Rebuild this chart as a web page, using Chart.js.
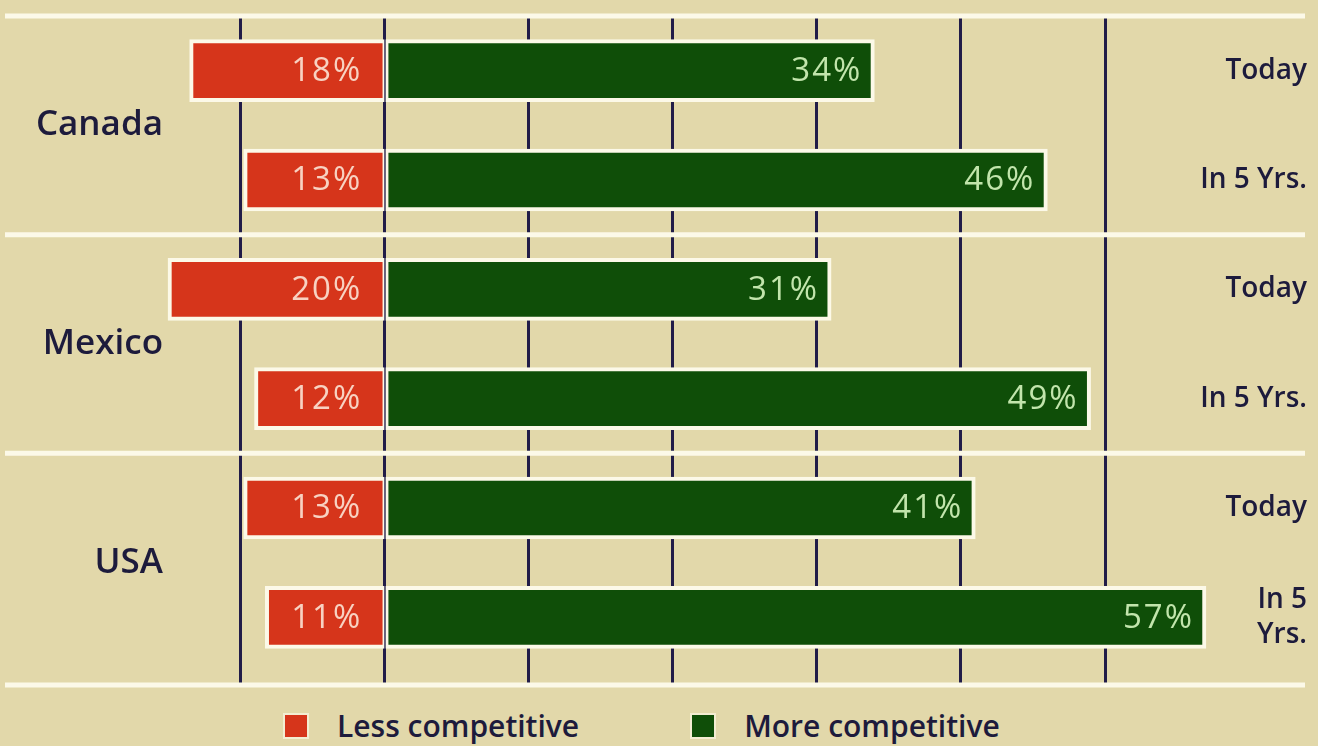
<!DOCTYPE html>
<html lang="en">
<head>
    <meta charset="UTF-8">
    <title>Competitiveness outlook</title>
    <script src="https://cdn.jsdelivr.net/npm/chart.js"></script>
    <style>
        body {
            margin: 0;
            background: #e2d8aa;
            font-family: 'Open Sans', sans-serif;
        }

        #wrap {
            position: relative;
            width: 1318px;
            height: 746px;
        }

        #chartBox {
            position: absolute;
            left: 0;
            top: 0;
            width: 1318px;
            height: 690px;
        }

        /* legend sits under the canvas */
        #legend {
            position: absolute;
            left: 285px;
            top: 705px;
            display: flex;
            align-items: center;
        }

        .legend-item {
            display: flex;
            align-items: center;
            margin-right: 113px;
            color: #1d1b3c;
            font-size: 30px;
            font-weight: 600;
        }

        .legend-box {
            width: 22px;
            height: 22px;
            margin-right: 30px;
            box-shadow: 0 0 0 2px #f3edd2;
        }
    </style>
</head>

<body>
    <div id="wrap">
        <div id="chartBox"><canvas id="competitiveChart"></canvas></div>
        <div id="legend"></div>
    </div>

    <script>
        // rows: two periods per country
        var countries = ['Canada', 'Mexico', 'USA'];
        var periods = ['Today', 'In 5 Yrs.', 'Today', 'In 5 Yrs.', 'Today', ['In 5', 'Yrs.']];
        var lessCompetitive = [18, 13, 20, 12, 13, 11];
        var moreCompetitive = [34, 46, 31, 49, 41, 57];
        var gridSteps = [-10, 0, 10, 20, 30, 40, 50];

        var navy = '#1d1b3c';
        var lineWhite = '#fcf9e8';
        var xMin = -15, xMax = 55.2;

        Chart.defaults.font.family = "'Open Sans', sans-serif";

        // white rules at the top, between countries and at the bottom
        var separators = {
            id: 'separators',
            beforeDatasetsDraw(chart) {
                var ctx = chart.ctx;
                var y = chart.scales.y;
                var perCountry = periods.length / countries.length;
                var rows = [chart.chartArea.top];
                for (var i = 1; i < countries.length; i++) {
                    rows.push(y.getPixelForValue(i * perCountry - 0.5));
                }
                rows.push(chart.scales.x.bottom);
                ctx.save();
                ctx.strokeStyle = lineWhite;
                ctx.lineWidth = 5;
                rows.forEach(function (yy) {
                    ctx.beginPath();
                    ctx.moveTo(5, yy);
                    ctx.lineTo(1305, yy);
                    ctx.stroke();
                });
                ctx.restore();
            }
        };

        // percentage written inside each bar
        var barValues = {
            id: 'barValues',
            afterDatasetsDraw(chart) {
                var ctx = chart.ctx;
                ctx.save();
                ctx.font = '33px "Open Sans"';
                ctx.letterSpacing = '2px';
                ctx.textAlign = 'right';
                ctx.textBaseline = 'middle';
                chart.data.datasets.forEach(function (ds, i) {
                    chart.getDatasetMeta(i).data.forEach(function (bar, j) {
                        var x = ds.xAxisID === 'xRed' ? bar.base - 22 : bar.x - 12;
                        ctx.fillStyle = ds.valueColor;
                        ctx.fillText(ds.data[j] + '%', x, bar.y + 1);
                    });
                });
                ctx.restore();
            }
        };

        var htmlLegend = {
            id: 'htmlLegend',
            afterUpdate(chart) {
                var box = document.getElementById('legend');
                box.innerHTML = '';
                chart.data.datasets.forEach(function (ds) {
                    var item = document.createElement('div');
                    item.className = 'legend-item';
                    var sw = document.createElement('span');
                    sw.className = 'legend-box';
                    sw.style.background = ds.backgroundColor;
                    var txt = document.createElement('span');
                    txt.textContent = ds.label;
                    item.append(sw, txt);
                    box.appendChild(item);
                });
            }
        };

        // side labels must not push the plot area in
        function fixedWidth(w) {
            return function (s) {
                s.width = w;
                s.paddingTop = 0;
                s.paddingBottom = 0;
            };
        }

        var competitiveChart = new Chart(document.getElementById('competitiveChart'), {
            type: 'bar',
            data: {
                labels: periods,
                datasets: [{
                    label: 'Less competitive',
                    data: lessCompetitive,
                    xAxisID: 'xRed',
                    backgroundColor: '#d6351b',
                    borderColor: lineWhite,
                    borderWidth: { top: 4, bottom: 4, left: 4, right: 2 },
                    borderSkipped: false,
                    valueColor: '#f8d2c2',
                    barThickness: 62,
                    grouped: false,
                    clip: false
                }, {
                    label: 'More competitive',
                    data: moreCompetitive,
                    xAxisID: 'x',
                    backgroundColor: '#0f4e08',
                    borderColor: lineWhite,
                    borderWidth: { top: 4, bottom: 4, left: 3, right: 4 },
                    borderSkipped: false,
                    valueColor: '#c2e5ac',
                    barThickness: 62,
                    grouped: false,
                    clip: false
                }]
            },
            options: {
                indexAxis: 'y',
                responsive: true,
                maintainAspectRatio: false,
                animation: false,
                events: [],
                layout: {
                    padding: { top: 16, bottom: 5, left: 0, right: 11 }
                },
                plugins: {
                    legend: { display: false },
                    tooltip: { enabled: false }
                },
                scales: {
                    x: {
                        min: xMin,
                        max: xMax,
                        position: 'bottom',
                        border: { display: false },
                        ticks: { display: false },
                        grid: { color: '#211c48', lineWidth: 3, drawTicks: true, tickLength: 11 },
                        afterBuildTicks: function (s) {
                            s.ticks = gridSteps.map(function (v) { return { value: v }; });
                        },
                        afterFit: function (s) { s.height = 13; }
                    },
                    // less-competitive side runs left from the same zero
                    xRed: {
                        type: 'linear',
                        axis: 'x',
                        display: false,
                        reverse: true,
                        min: -20 * xMax / -xMin,
                        max: 20
                    },
                    y: {
                        position: 'right',
                        grid: { display: false, drawTicks: false },
                        border: { display: false },
                        ticks: {
                            color: navy,
                            crossAlign: 'far',
                            font: { size: 28, weight: '600', lineHeight: 1.25 }
                        },
                        afterFit: fixedWidth(127)
                    },
                    yCountry: {
                        type: 'category',
                        axis: 'y',
                        labels: countries,
                        offset: true,
                        position: 'left',
                        grid: { display: false, drawTicks: false },
                        border: { display: false },
                        ticks: {
                            color: navy,
                            padding: 5,
                            font: { size: 35, weight: '600' }
                        },
                        afterFit: fixedWidth(168)
                    }
                }
            },
            plugins: [separators, barValues, htmlLegend]
        });
    </script>
</body>

</html>
